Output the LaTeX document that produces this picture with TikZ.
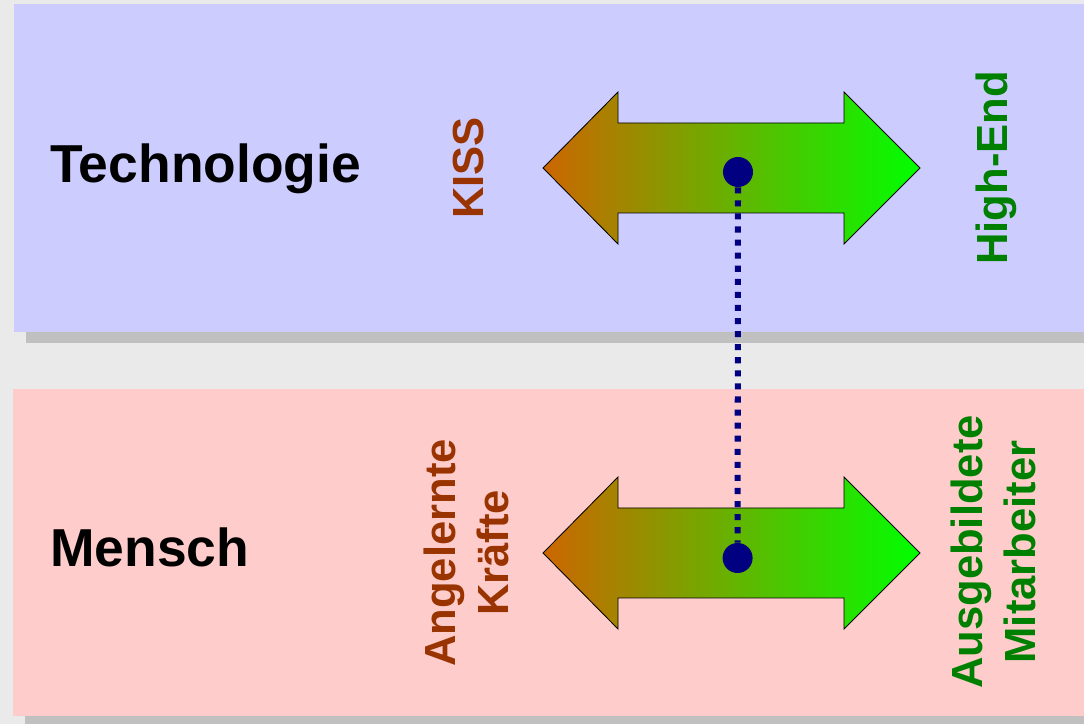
\documentclass[tikz,border=0pt]{standalone}
\usepackage{fontspec}
\setmainfont{Liberation Sans}
\definecolor{pagegray}{HTML}{EAEAEA}
\definecolor{shadowgray}{HTML}{C0C0C0}
\definecolor{techblue}{HTML}{CCCCFF}
\definecolor{menschrose}{HTML}{FFCCCC}
\definecolor{lowbrown}{HTML}{993300}
\definecolor{highgreen}{HTML}{008000}
\definecolor{arrowbrown}{HTML}{CC6600}
\definecolor{arrowgreen}{HTML}{00FF00}
\definecolor{dotnavy}{HTML}{000080}
\tikzset{
  areatitle/.style={anchor=base west, inner sep=0pt, font=\fontsize{38}{45}\selectfont\bfseries},
  endlabel/.style={rotate=90, inner sep=0pt, align=center, font=\fontsize{31}{37.7}\selectfont\bfseries},
  scaledot/.style={circle, fill=dotnavy, inner sep=0pt, minimum size=0.75cm}
}
\begin{document}
\begin{tikzpicture}
        \fill[pagegray] (0,0) rectangle (27.1,18.1);
        \fill[shadowgray] (0.65,9.525) rectangle (27.1,17.725);
        \fill[techblue] (0.35,9.8) rectangle (27.1,18.0);
        \fill[shadowgray] (0.625,0) rectangle (27.1,8.1);
        \fill[menschrose] (0.325,0.2) rectangle (27.1,8.375);
        \foreach \y in {13.9,4.275}
            \draw[line width=0.6pt, left color=arrowbrown, right color=arrowgreen]
                (13.575,\y) -- (15.45,\y+1.9) -- (15.45,\y+1.125) -- (21.1,\y+1.125) -- (21.1,\y+1.9)
                -- (23.0,\y) -- (21.1,\y-1.9) -- (21.1,\y-1.125) -- (15.45,\y-1.125) -- (15.45,\y-1.9) -- cycle;
        \node[areatitle] (technologie) at (1.25,13.525) {Technologie};
        \node[areatitle] (mensch) at (1.25,3.925) {Mensch};
        \node[endlabel, anchor=base, text=lowbrown] (kiss) at (12.075,13.9) {KISS};
        \node[endlabel, anchor=base, text=highgreen] (highend) at (25.175,13.9) {High-End};
        \node[endlabel, text=lowbrown] (angelernte) at (11.66,4.275) {Angelernte\\Kräfte};
        \node[endlabel, text=highgreen] (ausgebildete) at (24.84,4.3) {Ausgebildete\\Mitarbeiter};
        \node[scaledot] (techdot) at (18.45,13.8) {};
        \node[scaledot] (menschdot) at (18.44,4.15) {};
        \draw[dotnavy, line width=4.3pt, dash pattern=on 4.3pt off 5pt] (techdot) -- (menschdot);
    \end{tikzpicture}
\end{document}
